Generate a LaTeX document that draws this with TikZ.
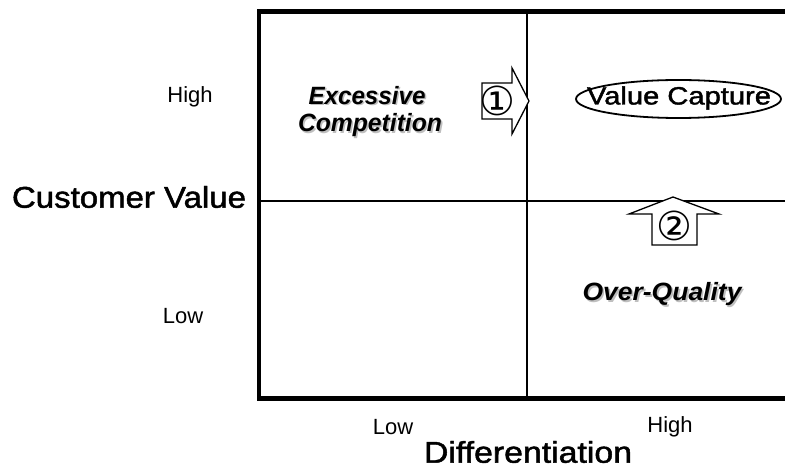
\documentclass[tikz,border=0pt]{standalone}
\usepackage{fontspec}
\setmainfont{Liberation Sans}
\newfontfamily\medfont[FakeBold=1.5]{Liberation Sans}
\newfontfamily\symfont{DejaVu Sans}
\usetikzlibrary{shapes.geometric}
\newcommand{\wfit}[2]{\resizebox{#1}{\height}{#2}}
\newcommand{\shadowtext}[1]{\rlap{\kern1.6bp\raisebox{-1.6bp}{\color{gray!50}#1}}#1}
\tikzset{
  x=1bp, y=-1bp,
  frame/.style={line width=4.5bp, line cap=rect},
  divider/.style={line width=1.8bp},
  blockarrow/.style={draw, line width=1.3bp, fill=white, line join=miter},
  axislabel/.style={inner sep=0, font=\medfont\fontsize{30bp}{32bp}\selectfont},
  ticklabel/.style={inner sep=0, font=\fontsize{22bp}{24bp}\selectfont},
  quadlabel/.style={inner sep=0, font=\fontsize{25bp}{27bp}\selectfont\bfseries\itshape},
  circnum/.style={inner sep=0, font=\symfont\fontsize{40bp}{42bp}\selectfont},
  valuetext/.style={inner sep=0, font=\medfont\fontsize{25bp}{27bp}\selectfont},
  valuering/.style={line width=1.8bp}
}
\begin{document}
\begin{tikzpicture}
\useasboundingbox (0,0) rectangle (785,471);
% frame
\coordinate (tl) at (259,11.5);
\coordinate (tr) at (790,11.5);
\coordinate (bl) at (259,398.5);
\coordinate (br) at (790,398.5);
\coordinate (dt) at (527,11.5);
\coordinate (db) at (527,398.5);
\coordinate (ml) at (259,201);
\coordinate (mr) at (790,201);
\draw[divider] (dt) -- (db);
\draw[divider] (ml) -- (mr);
\draw[frame] (tr) -- (tl) -- (bl) -- (br);

% axis labels
\node[axislabel] (cv) at (129,197) {\wfit{234bp}{Customer Value}};
\node[axislabel] (diff) at (528,452) {\wfit{208bp}{Differentiation}};
\node[ticklabel] (yhigh) at (190,97) {High};
\node[ticklabel] (ylow) at (183,316) {Low};
\node[ticklabel] (xlow) at (393,427) {Low};
\node[ticklabel] (xhigh) at (670,427) {High};

% quadrant labels with shadow
\node[quadlabel] (exc) at (367,96) {\wfit{117bp}{\shadowtext{Excessive}}};
\node[quadlabel] (comp) at (370,126) {\wfit{144bp}{\shadowtext{Competition}}};
\node[quadlabel] (oq) at (662,295) {\wfit{159bp}{\shadowtext{Over-Quality}}};

% value capture
\node[valuetext] (vc) at (679,98) {\wfit{184bp}{Value Capture}};
\draw[valuering] (678.5,99) ellipse [x radius=102.5bp, y radius=19bp];

% arrow 1
\draw[blockarrow] (482,83) -- (512,83) -- (512,68) -- (529,101) -- (512,134) -- (512,119) -- (482,119) -- cycle;
\node[circnum] (n1) at (497,101) {①};
% arrow 2
\draw[blockarrow] (652,245) -- (652,214) -- (629,214) -- (673,197) -- (719,214) -- (697,214) -- (697,245) -- cycle;
\node[circnum] (n2) at (674,226) {②};
\end{tikzpicture}
\end{document}
